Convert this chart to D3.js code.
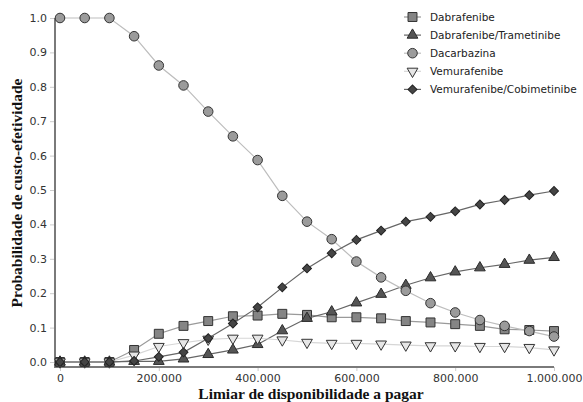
<!DOCTYPE html>
<html>
<head>
<meta charset="utf-8">
<script src="https://cdn.jsdelivr.net/npm/d3@7"></script>
<style>
  body { margin: 0; background: #fff; }
  svg { display: block; }
</style>
</head>
<body>
<div id="chart"></div>
<script>
const limiar = [0, 50000, 100000, 150000, 200000, 250000, 300000, 350000, 400000, 450000, 500000,
  550000, 600000, 650000, 700000, 750000, 800000, 850000, 900000, 950000, 1000000];

const dabrafenibe = [0, 0, 0, 0.035, 0.082, 0.105, 0.119, 0.133, 0.135, 0.14, 0.137,
  0.13, 0.13, 0.127, 0.119, 0.115, 0.11, 0.105, 0.095, 0.093, 0.09];
const dabraTrame = [0, 0, 0, 0.002, 0.002, 0.009, 0.022, 0.035, 0.051, 0.091, 0.127,
  0.146, 0.172, 0.197, 0.223, 0.245, 0.262, 0.274, 0.284, 0.296, 0.304];
const dacarbazina = [1, 1, 1, 0.947, 0.862, 0.804, 0.728, 0.656, 0.587, 0.483, 0.408,
  0.357, 0.292, 0.246, 0.207, 0.171, 0.144, 0.122, 0.105, 0.09, 0.074];
const vemurafenibe = [0, 0, 0, 0.02, 0.045, 0.056, 0.066, 0.069, 0.069, 0.064, 0.057,
  0.054, 0.054, 0.052, 0.049, 0.047, 0.047, 0.045, 0.045, 0.042, 0.035];
const vemuCobi = [0, 0, 0, 0.003, 0.015, 0.028, 0.069, 0.112, 0.159, 0.217, 0.272,
  0.316, 0.355, 0.382, 0.408, 0.422, 0.438, 0.458, 0.471, 0.485, 0.497];

const seriesNames = ["Dabrafenibe", "Dabrafenibe/Trametinibe", "Dacarbazina", "Vemurafenibe", "Vemurafenibe/Cobimetinibe"];
const seriesValues = [dabrafenibe, dabraTrame, dacarbazina, vemurafenibe, vemuCobi];
const xTicks = [0, 200000, 400000, 600000, 800000, 1000000];
const yTicks = [0, 0.1, 0.2, 0.3, 0.4, 0.5, 0.6, 0.7, 0.8, 0.9, 1.0];

const styles = [
  { symbol: d3.symbolSquare, size: 80, fill: "#858585", stroke: "#333", line: "#9a9a9a", rot: 0 },
  { symbol: d3.symbolTriangle, size: 50, fill: "#555", stroke: "#2a2a2a", line: "#666", rot: 0 },
  { symbol: d3.symbolCircle, size: 72, fill: "#9b9b9b", stroke: "#333", line: "#bdbdbd", rot: 0 },
  { symbol: d3.symbolTriangle, size: 50, fill: "#e6e6e6", stroke: "#333", line: "#d6d6d6", rot: 180 },
  { symbol: d3.symbolSquare, size: 40, fill: "#454545", stroke: "#222", line: "#666", rot: 45 }
];

const width = 583, height = 402;
const svg = d3.select("#chart").append("svg")
  .attr("width", width).attr("height", height);

const x = d3.scaleLinear().domain([0, 1000000]).range([60, 554]);
const y = d3.scaleLinear().domain([0, 1]).range([362, 18]);
const axisX = 55, axisY = 367;

// y axis
const gy = svg.append("g").attr("transform", `translate(${axisX},0)`)
  .call(d3.axisLeft(y).tickValues(yTicks).tickFormat(d3.format(".1f")).tickSize(5).tickPadding(3));
gy.select(".domain").remove();
gy.selectAll(".tick line").attr("stroke", "#ccc");
gy.selectAll(".tick text").attr("font-family", "DejaVu Sans").attr("font-size", 11).attr("fill", "#333");

// x axis
const fmt = d => d3.format(",")(d).replace(/,/g, ".");
const gx = svg.append("g").attr("transform", `translate(0,${axisY})`)
  .call(d3.axisBottom(x).tickValues(xTicks).tickFormat(fmt).tickSize(4).tickPadding(3));
gx.select(".domain").remove();
gx.selectAll(".tick line").attr("stroke", "#ccc");
gx.selectAll(".tick text").attr("font-family", "DejaVu Sans").attr("font-size", 11).attr("fill", "#333");

svg.append("line").attr("x1", axisX).attr("x2", axisX).attr("y1", y(1)).attr("y2", axisY + 1)
  .attr("stroke", "#7a7a7a").attr("stroke-width", 2);
svg.append("line").attr("x1", axisX - 1).attr("x2", x(1000000)).attr("y1", axisY).attr("y2", axisY)
  .attr("stroke", "#7a7a7a").attr("stroke-width", 2);

// axis titles
svg.append("text")
  .attr("x", 311).attr("y", 399)
  .attr("text-anchor", "middle")
  .attr("font-family", "Liberation Serif").attr("font-weight", "bold").attr("font-size", 15.5)
  .attr("fill", "#111")
  .text("Limiar de disponibilidade a pagar");

svg.append("text")
  .attr("transform", "translate(22,193) rotate(-90)")
  .attr("text-anchor", "middle")
  .attr("font-family", "Liberation Serif").attr("font-weight", "bold").attr("font-size", 15.5)
  .attr("fill", "#111")
  .text("Probabilidade de custo-efetividade");

const line = d3.line().x((d, i) => x(limiar[i])).y(d => y(d));

function marker(s) {
  return d3.symbol().type(s.symbol).size(s.size)();
}

seriesValues.forEach((vals, k) => {
  const s = styles[k];
  const g = svg.append("g");
  g.append("path").datum(vals)
    .attr("d", line).attr("fill", "none").attr("stroke", s.line).attr("stroke-width", 1.2);
  g.selectAll("path.pt").data(vals).join("path")
    .attr("class", "pt")
    .attr("d", marker(s))
    .attr("transform", (d, i) => `translate(${x(limiar[i])},${y(d)}) rotate(${s.rot})`)
    .attr("fill", s.fill).attr("stroke", s.stroke).attr("stroke-width", 1);
});

// legend
const legend = svg.append("g").attr("transform", "translate(404,17)");
seriesNames.forEach((name, k) => {
  const s = styles[k];
  const row = legend.append("g").attr("transform", `translate(0,${k * 18.1})`);
  row.append("line").attr("x1", 0).attr("x2", 17).attr("y1", 0).attr("y2", 0)
    .attr("stroke", s.line).attr("stroke-width", 1.2);
  row.append("path").attr("d", marker(s))
    .attr("transform", `translate(8.5,0) rotate(${s.rot})`)
    .attr("fill", s.fill).attr("stroke", s.stroke);
  row.append("text").attr("x", 26).attr("y", 0).attr("dy", "0.35em")
    .attr("font-family", "DejaVu Sans").attr("font-size", 10.5).attr("fill", "#222")
    .text(name);
});
</script>
</body>
</html>
